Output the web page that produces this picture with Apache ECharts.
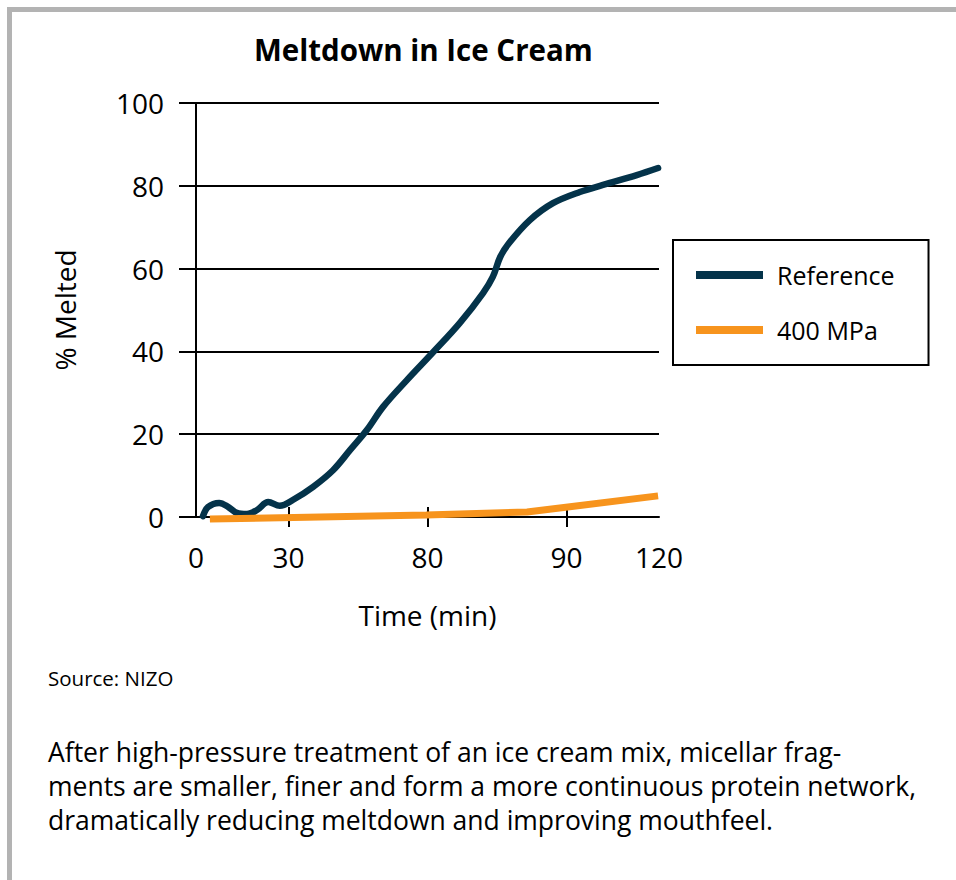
<!DOCTYPE html>
<html>
<head>
<meta charset="utf-8">
<script src="https://cdn.jsdelivr.net/npm/echarts@6/dist/echarts.min.js"></script>
<style>
  html, body { margin: 0; padding: 0; background: #ffffff; }
  #frame { position: absolute; left: 7px; top: 7px; width: 949px; height: 873px;
           border-top: 5px solid #b3b3b3; border-left: 5px solid #b3b3b3; box-sizing: border-box; }
  #chart { position: absolute; left: 0; top: 0; width: 956px; height: 880px; }
</style>
</head>
<body>
<div id="frame"></div>
<div id="chart"></div>
<script>
// x positions are in "axis position" units (0..100 across the plot), as the
// original axis labels are not evenly spaced.
const xTickPositions = [0, 20, 50, 80, 100];
const xTickLabels = ['0', '30', '80', '90', '120'];
const yTicks = [0, 20, 40, 60, 80, 100];

const refX = [1.5, 2.6, 5.0, 7.0, 8.8, 11.0, 13.2, 15.6, 18.1, 20.9, 25.3, 29.6, 33.3, 36.9, 40.4, 45.5, 51.3, 57.0, 62.0, 64.1, 65.7, 67.5, 72.1, 77.1, 82.9, 87.9, 95.2, 99.8];
const refY = [0.2, 2.4, 3.4, 2.4, 1.0, 0.7, 1.7, 3.6, 2.7, 4.1, 7.3, 11.3, 16.2, 21.0, 26.6, 33.0, 39.9, 46.9, 54.1, 58.0, 62.8, 66.0, 71.7, 75.8, 78.5, 80.2, 82.6, 84.3];

const hpX = [3.0, 49.7, 71.5, 99.8];
const hpY = [-0.5, 0.5, 1.2, 5.1];

const seriesNames = ['Reference', '400 MPa'];
const seriesColors = ['#04334a', '#f7941d'];

const zip = (xs, ys) => xs.map((x, i) => [x, ys[i]]);
const FONT = '"Open Sans", "DejaVu Sans", sans-serif';

const chart = echarts.init(document.getElementById('chart'), null, { renderer: 'svg' });
chart.setOption({
  animation: false,
  backgroundColor: 'transparent',
  title: {
    text: 'Meltdown in Ice Cream',
    left: 249, top: 29,
    textStyle: { fontFamily: FONT, fontSize: 29.5, fontWeight: 'bold', color: '#000' }
  },
  grid: { left: 196, right: 297, top: 103, bottom: 363, containLabel: false },
  legend: {
    orient: 'vertical',
    left: 673, top: 240,
    padding: [20, 34, 20, 23],
    itemWidth: 67, itemHeight: 8, itemGap: 25,
    icon: 'rect',
    borderColor: '#000', borderWidth: 2, borderRadius: 0,
    textStyle: { fontFamily: FONT, fontSize: 25, lineHeight: 30, color: '#000', padding: [0, 0, 0, 9] },
    data: seriesNames
  },
  xAxis: [
    {
      type: 'value', min: 0, max: 100, position: 'bottom',
      name: 'Time (min)', nameLocation: 'middle', nameGap: 84,
      nameTextStyle: { fontFamily: FONT, fontSize: 28, color: '#000' },
      axisLine: { show: true, onZero: false, lineStyle: { color: '#000', width: 2 } },
      axisTick: { show: true, inside: false, length: 10, customValues: xTickPositions.slice(1, -1), lineStyle: { color: '#000', width: 2 } },
      axisLabel: {
        show: true, margin: 26, customValues: xTickPositions,
        fontFamily: FONT, fontSize: 28, color: '#000',
        formatter: v => xTickLabels[xTickPositions.indexOf(v)]
      },
      splitLine: { show: false }
    },
    {
      type: 'value', min: 0, max: 100, position: 'bottom',
      axisLine: { show: false },
      axisTick: { show: true, inside: true, length: 10, customValues: xTickPositions.slice(1, -1), lineStyle: { color: '#000', width: 2 } },
      axisLabel: { show: false },
      splitLine: { show: false }
    }
  ],
  yAxis: [
    {
      type: 'value', min: 0, max: 100, interval: 20, position: 'left',
      name: '% Melted', nameLocation: 'middle', nameGap: 117, nameRotate: 90,
      nameTextStyle: { fontFamily: FONT, fontSize: 28, color: '#000' },
      axisLine: { show: true, lineStyle: { color: '#000', width: 2 } },
      axisTick: { show: true, inside: false, length: 17, lineStyle: { color: '#000', width: 2 } },
      axisLabel: { show: true, margin: 32, fontFamily: FONT, fontSize: 28, color: '#000',
                   customValues: yTicks },
      splitLine: { show: true, lineStyle: { color: '#000', width: 2 } }
    },
    {
      type: 'value', min: 0, max: 100, position: 'right',
      axisLine: { show: true, lineStyle: { color: '#000', width: 2 } },
      axisTick: { show: false }, axisLabel: { show: false }, splitLine: { show: false }
    }
  ],
  series: [
    {
      name: seriesNames[0], type: 'line', data: zip(refX, refY),
      smooth: 0.35, symbol: 'none', clip: false,
      lineStyle: { color: seriesColors[0], width: 6.5, cap: 'round' },
      itemStyle: { color: seriesColors[0] }, z: 3
    },
    {
      name: seriesNames[1], type: 'line', data: zip(hpX, hpY),
      smooth: false, symbol: 'none', clip: false,
      lineStyle: { color: seriesColors[1], width: 7, cap: 'butt' },
      itemStyle: { color: seriesColors[1] }, z: 4
    }
  ],
  graphic: [
    { type: 'text', left: 48, top: 666,
      style: { text: 'Source: NIZO', fontFamily: FONT, fontSize: 20.5, lineHeight: 24, fill: '#000' } },
    { type: 'text', left: 48, top: 735,
      style: {
        text: 'After high-pressure treatment of an ice cream mix, micellar frag-\nments are smaller, finer and form a more continuous protein network,\ndramatically reducing meltdown and improving mouthfeel.',
        fontFamily: FONT, fontSize: 26.5, lineHeight: 34, fill: '#000'
      } }
  ]
});
</script>
</body>
</html>
